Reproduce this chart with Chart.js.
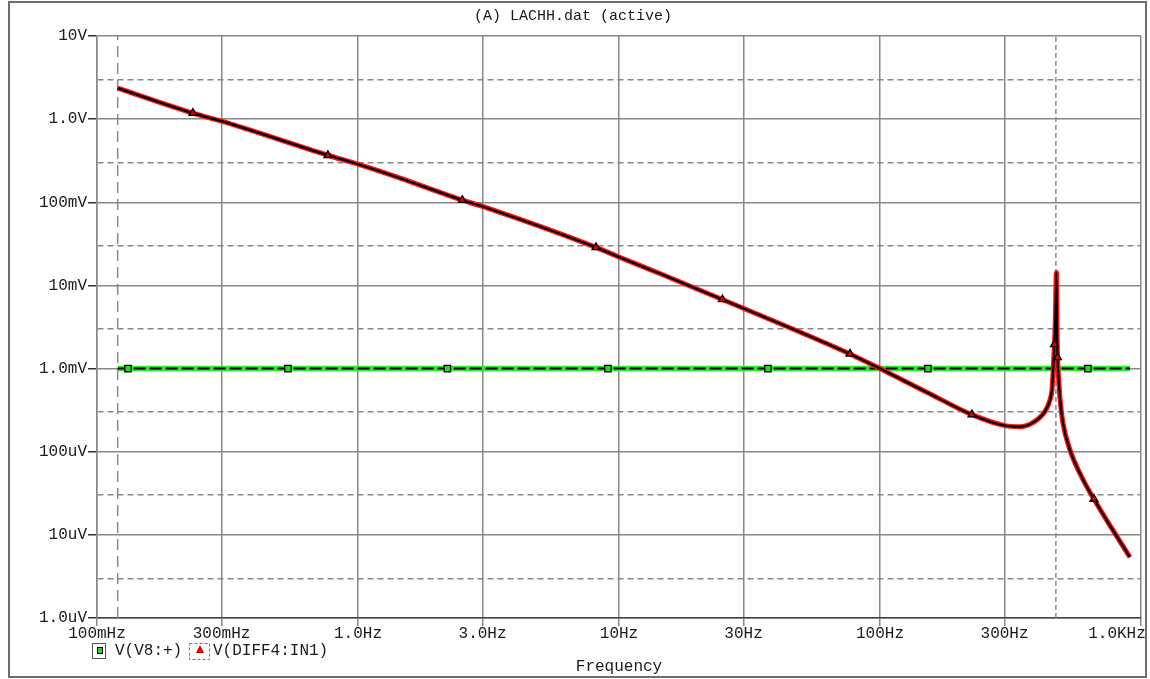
<!DOCTYPE html>
<html>
<head>
<meta charset="utf-8">
<title>LACHH.dat</title>
<script src="https://cdn.jsdelivr.net/npm/chart.js@4.4.1/dist/chart.umd.min.js"></script>
<style>
  html, body { margin: 0; padding: 0; background: #fff; }
  #plot { display: block; }
</style>
</head>
<body>
<canvas id="plot" width="1150" height="679"></canvas>
<script>
// axis ticks
const xTickVals = [0.1, 0.3, 1, 3, 10, 30, 100, 300, 1000];
const xTickLabels = ["100mHz", "300mHz", "1.0Hz", "3.0Hz", "10Hz", "30Hz", "100Hz", "300Hz", "1.0KHz"];
const yTickVals = [1e-6, 1e-5, 1e-4, 1e-3, 1e-2, 0.1, 1, 10];
const yTickLabels = ["1.0uV", "10uV", "100uV", "1.0mV", "10mV", "100mV", "1.0V", "10V"];
const yMinorVals = [3e-6, 3e-5, 3e-4, 3e-3, 3e-2, 0.3, 3];

// V(V8:+)  (flat 1 mV)
const v8Freq = [0.12, 0.1315, 0.539, 2.2, 9.07, 37.2, 152.6, 626, 907];
const v8Volt = [1e-3, 1e-3, 1e-3, 1e-3, 1e-3, 1e-3, 1e-3, 1e-3, 1e-3];
const v8Marks = [1, 2, 3, 4, 5, 6, 7];

// V(DIFF4:IN1)
const diffFreq = [0.12, 0.233, 0.3, 0.767, 1.0, 1.45, 2.51, 3.0, 8.16, 9.89, 14.4, 24.9, 30.1,
  76.7, 100, 119, 151, 225, 301, 344, 385, 428, 448, 456, 462, 466, 470, 474, 477, 479, 483, 490, 502, 534, 600,
  660, 760, 907];
const diffVolt = [2.36, 1.18, 0.946, 0.368, 0.287, 0.195, 0.106, 0.089, 0.0287, 0.0223, 0.0138,
  0.00678, 0.00528, 0.0015, 0.001, 0.000758, 0.00052, 0.000279, 0.000206, 0.0002, 0.000224,
  0.000303, 0.00042, 0.00056, 0.0011, 0.00195, 0.0042, 0.0143, 0.0025, 0.00136, 0.0008, 0.000423, 0.000224,
  0.000106, 0.000046, 0.000027, 0.000013, 0.0000054];
const diffMarks = [1, 3, 6, 8, 11, 13, 17, 25, 29, 35];

// cursor positions
const cursorFreq = [0.12, 472];

const FONT = "'Liberation Mono', 'DejaVu Sans Mono', monospace";
Chart.defaults.font.family = FONT;
Chart.defaults.font.size = 16;
Chart.defaults.color = "#1a1a1a";

function toPoints(xs, ys) {
  return xs.map((x, i) => ({ x, y: ys[i] }));
}

function markRadius(list, r) {
  return (ctx) => (list.includes(ctx.dataIndex) ? r : 0);
}

const isMinor = (v) => yMinorVals.includes(v);

const cursorSets = cursorFreq.map((f, i) => ({
  data: [{ x: f, y: yTickVals[0] }, { x: f, y: yTickVals[yTickVals.length - 1] }],
  borderColor: "#8a8a8a",
  borderWidth: 1.5,
  borderDash: i === 0 ? [11, 6] : [5, 3],
  pointRadius: 0,
  showLine: true,
  order: 10,
}));

const framePlugin = {
  id: "frame",
  beforeDraw(chart) {
    const c = chart.ctx;
    c.save();
    c.fillStyle = "#fff";
    c.fillRect(0, 0, chart.width, chart.height);
    c.strokeStyle = "#6e6e6e";
    c.lineWidth = 2;
    c.strokeRect(9, 2, 1137, 675);
    c.restore();
  },
  afterDraw(chart) {
    const c = chart.ctx;
    c.save();
    c.fillStyle = "#1a1a1a";
    c.textBaseline = "middle";

    // title
    c.font = "15px " + FONT;
    c.textAlign = "center";
    c.fillText("(A) LACHH.dat (active)", 573, 16);

    // x axis title
    c.font = "16px " + FONT;
    c.fillText("Frequency", 619, 667);

    // legend
    c.textAlign = "left";
    c.strokeStyle = "#555";
    c.lineWidth = 1;
    c.strokeRect(92.5, 643.5, 13, 15);
    c.fillStyle = "#22dd22";
    c.fillRect(97, 647, 6, 7);
    c.strokeStyle = "#000";
    c.strokeRect(97.5, 647.5, 5, 6);
    c.fillStyle = "#1a1a1a";
    c.fillText("V(V8:+)", 115, 651);

    c.setLineDash([3, 2]);
    c.strokeStyle = "#777";
    c.strokeRect(189.5, 643.5, 20, 16);
    c.setLineDash([]);
    c.fillStyle = "#e00000";
    c.beginPath();
    c.moveTo(200, 645);
    c.lineTo(204, 653);
    c.lineTo(196, 653);
    c.closePath();
    c.fill();
    c.fillStyle = "#1a1a1a";
    c.fillText("V(DIFF4:IN1)", 213, 651);
    c.restore();
  },
};

new Chart(document.getElementById("plot"), {
  type: "scatter",
  data: {
    datasets: [
      {
        data: toPoints(diffFreq, diffVolt),
        showLine: true,
        cubicInterpolationMode: "monotone",
        borderColor: "#000",
        borderWidth: 2.2,
        pointStyle: "triangle",
        pointRadius: markRadius(diffMarks, 4.5),
        pointBackgroundColor: "#e00000",
        pointBorderColor: "#000",
        pointBorderWidth: 1.3,
        order: 0,
      },
      {
        data: toPoints(diffFreq, diffVolt),
        showLine: true,
        cubicInterpolationMode: "monotone",
        borderColor: "#ff1010",
        borderWidth: 5,
        pointRadius: 0,
        order: 1,
      },
      {
        data: toPoints(v8Freq, v8Volt),
        showLine: true,
        borderColor: "#000",
        borderWidth: 2,
        borderDash: [12, 4],
        pointStyle: "rect",
        pointRadius: markRadius(v8Marks, 4.5),
        pointBackgroundColor: "#22dd22",
        pointBorderColor: "#000",
        pointBorderWidth: 1.3,
        order: 2,
      },
      {
        data: toPoints(v8Freq, v8Volt),
        showLine: true,
        borderColor: "#2ee82e",
        borderWidth: 5.5,
        pointRadius: 0,
        order: 3,
      },
      ...cursorSets,
    ],
  },
  options: {
    responsive: false,
    animation: false,
    events: [],
    layout: { padding: { top: 36, right: 9, left: 0, bottom: 0 } },
    plugins: {
      legend: { display: false },
      title: { display: false },
      tooltip: { enabled: false },
    },
    scales: {
      x: {
        type: "logarithmic",
        min: 0.1,
        max: 1000,
        afterBuildTicks: (scale) => {
          scale.ticks = xTickVals.map((v) => ({ value: v }));
        },
        afterFit: (scale) => {
          scale.height = 61;
          scale.paddingLeft = 0;
          scale.paddingRight = 0;
        },
        ticks: {
          autoSkip: false,
          maxRotation: 0,
          padding: -2,
          color: "#1a1a1a",
          callback: (value) => {
            const i = xTickVals.indexOf(value);
            // last label sits left of its tick, like the original
            return i === xTickVals.length - 1 ? xTickLabels[i] + "     " : xTickLabels[i];
          },
        },
        grid: {
          color: "#888",
          lineWidth: 1.5,
          tickLength: 8,
          tickColor: "#888",
        },
        border: { color: "#444", width: 1.5 },
      },
      y: {
        type: "logarithmic",
        min: 1e-6,
        max: 10,
        afterBuildTicks: (scale) => {
          scale.ticks = [...yTickVals, ...yMinorVals].sort((a, b) => a - b).map((v) => ({ value: v }));
        },
        afterFit: (scale) => {
          scale.width = 97;
          scale.paddingTop = 0;
          scale.paddingBottom = 0;
        },
        ticks: {
          autoSkip: false,
          padding: 1,
          color: "#1a1a1a",
          callback: (value) => {
            const i = yTickVals.indexOf(value);
            return i >= 0 ? yTickLabels[i] : "";
          },
        },
        grid: {
          color: "#888",
          lineWidth: 1.5,
          tickLength: 9,
          tickColor: (ctx) => (ctx.tick && isMinor(ctx.tick.value) ? "rgba(0,0,0,0)" : "#333"),
        },
        border: {
          color: "#888",
          width: 1.5,
          dash: (ctx) => (ctx.tick && isMinor(ctx.tick.value) ? [6, 4] : []),
        },
      },
    },
  },
  plugins: [framePlugin],
});
</script>
</body>
</html>
